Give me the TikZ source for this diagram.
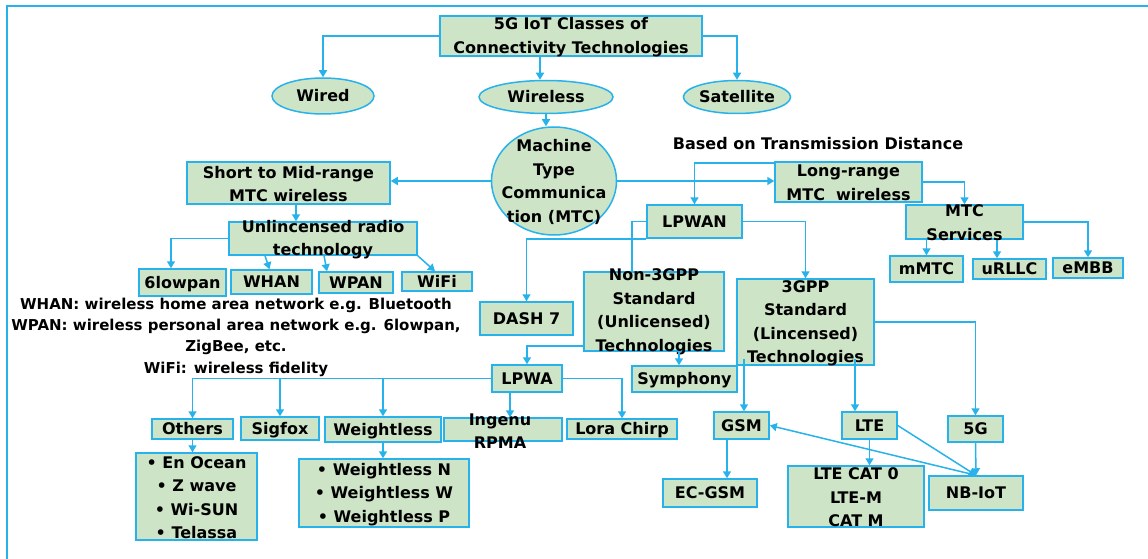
\documentclass[tikz,border=0pt]{standalone}
\usepackage{fontspec}
\setmainfont{DejaVu Sans}
\usetikzlibrary{arrows.meta,shapes.geometric}
\definecolor{lb}{RGB}{40,178,235}
\definecolor{gr}{RGB}{206,228,199}
\begin{document}
\begin{tikzpicture}[x=1pt,y=-1pt,
  bx/.style={draw=lb, fill=gr, line width=1.5pt, inner sep=0pt},
  box/.style={bx, font=\bfseries\fontsize{16}{23.5}\selectfont, text height=11.5pt, text depth=0pt},
  el/.style={ellipse, bx, font=\bfseries\fontsize{16}{23.5}\selectfont, text height=11.5pt, text depth=0pt},
  txt/.style={align=center, inner sep=0pt, font=\bfseries\fontsize{16}{23.5}\selectfont},
  note/.style={align=center, inner sep=0pt, font=\bfseries\fontsize{15}{21.3}\selectfont},
  arr/.style={draw=lb, line width=1.5pt, -{Triangle[width=8pt,length=7pt]}},
  ln/.style={draw=lb, line width=1.5pt}]
\useasboundingbox (0,0) rectangle (1148,559);
\fill[white] (0,0) rectangle (1148,559);
\draw[lb, line width=2pt] (7,559) -- (7,6) -- (1148,6);

% top
\node[bx, minimum width=262, minimum height=40] (top) at (571,36) {};
\node[txt] (topt) at (571,37) {5G IoT Classes of\\Connectivity Technologies};
\node[el, minimum width=102, minimum height=36] (wired) at (323,96) {Wired};
\node[el, minimum width=134, minimum height=33] (wireless) at (546,97) {Wireless};
\node[el, minimum width=95, minimum height=33] (sat) at (737,97) {Satellite};
\node[ellipse, bx, minimum width=125, minimum height=108] (mtc) at (554,181) {};
\node[txt] (mtct) at (554,182) {Machine\\Type\\Communica\\tion (MTC)};
\node[txt] (based) at (818,144) {Based on Transmission Distance};

% short range
\node[bx, minimum width=203, minimum height=42] (short) at (288.5,183) {};
\node[txt] (shortt) at (288.5,184) {Short to Mid-range\\MTC wireless};
\node[bx, minimum width=188, minimum height=33] (unl) at (323,238.5) {};
\node[txt] (unlt) at (323,239.5) {Unlincensed radio\\technology};
\node[box, minimum width=87, minimum height=27] (six) at (182.5,282.5) {6lowpan};
\node[box, minimum width=81, minimum height=24] (whan) at (271.5,282) {WHAN};
\node[box, minimum width=74, minimum height=21] (wpan) at (356,282.5) {WPAN};
\node[box, minimum width=70, minimum height=19] (wifi) at (437,281.5) {WiFi};
\node[note] (notes) at (236,337) {WHAN: wireless home area network e.g. Bluetooth\\WPAN: wireless personal area network e.g. 6lowpan,\\ZigBee, etc.\\WiFi: wireless fidelity};

% long range
\node[bx, minimum width=147, minimum height=40] (long) at (848.5,182) {};
\node[txt] (longt) at (848.5,183) {Long-range\\MTC\ \ wireless};
\node[bx, minimum width=117, minimum height=34] (serv) at (964.5,222) {};
\node[txt] (servt) at (964.5,222.5) {MTC\\Services};
\node[box, minimum width=73, minimum height=26] (mmtc) at (926.5,269) {mMTC};
\node[box, minimum width=73, minimum height=20] (urllc) at (1009.5,269) {uRLLC};
\node[box, minimum width=70, minimum height=20] (embb) at (1088,268) {eMBB};

\node[box, minimum width=95, minimum height=33] (lpwan) at (694.5,221.5) {LPWAN};
\node[box, minimum width=93, minimum height=33] (dash) at (526.5,318.5) {DASH 7};
\node[bx, minimum width=140, minimum height=79] (non) at (654,311.5) {};
\node[txt] (nont) at (654,312) {Non-3GPP\\Standard\\(Unlicensed)\\Technologies};
\node[bx, minimum width=137, minimum height=86] (tgpp) at (805.5,322) {};
\node[txt] (tgppt) at (805.5,323.5) {3GPP\\Standard\\(Lincensed)\\Technologies};
\node[box, minimum width=105, minimum height=26] (symph) at (684.5,379) {Symphony};
\node[box, minimum width=70, minimum height=27] (lpwa) at (527,378.5) {LPWA};

\node[box, minimum width=81, minimum height=20] (others) at (192.5,429) {Others};
\node[box, minimum width=78, minimum height=23] (sigfox) at (280,428.5) {Sigfox};
\node[box, minimum width=116, minimum height=25] (weight) at (383,429.5) {Weightless};
\node[bx, minimum width=118, minimum height=23] (ingenu) at (503,429.5) {};
\node[txt] (ingenut) at (500,431) {Ingenu\\RPMA};
\node[box, minimum width=110, minimum height=20] (lora) at (622,429) {Lora Chirp};
\node[bx, minimum width=121, minimum height=87] (olist) at (196.5,496.5) {};
\node[txt] (olistt) at (196.5,497.5) {• En Ocean\\• Z wave\\• Wi-SUN\\• Telassa};
\node[bx, minimum width=170, minimum height=68] (wlist) at (384,493) {};
\node[txt] (wlistt) at (384,494.5) {• Weightless N\\• Weightless W\\• Weightless P};

\node[box, minimum width=55, minimum height=27] (gsm) at (741.5,425.5) {GSM};
\node[box, minimum width=94, minimum height=28] (ecgsm) at (710,493) {EC-GSM};
\node[box, minimum width=55, minimum height=27] (lte) at (869.5,425.5) {LTE};
\node[bx, minimum width=136, minimum height=61] (ltecat) at (856,496.5) {};
\node[txt] (ltecatt) at (856,497.5) {LTE CAT 0\\LTE-M\\CAT M};
\node[box, minimum width=55, minimum height=26] (fg) at (975.5,429) {5G};
\node[box, minimum width=94, minimum height=34] (nb) at (976,493) {NB-IoT};

% connectors
\draw[arr] (top.west) -| (wired.north);
\draw[arr] ([xshift=-31pt]top.south) -- ([xshift=-31pt]top.south |- wireless.north);
\draw[arr] (top.east) -| (sat.north);
\draw[arr] (wireless.south) -- (wireless.south |- mtc.north);
\draw[arr] (mtc.west) -- (short.east |- mtc.west);
\draw[arr] (mtc.east) -- (long.west |- mtc.east);
\draw[arr] ([yshift=-1.5pt]long.north west) -| (lpwan.north);
\draw[arr] (long.east) -| (serv.north);
\draw[ln] (lpwan.west) -| ([xshift=-22pt]non.north);
\draw[arr] (lpwan.south west) -| (dash.north);
\draw[arr] (lpwan.east) -| (tgpp.north);
\draw[arr] (tgpp.east) -| (fg.north);
\draw[arr] ([xshift=2.5pt,yshift=7pt]gsm.north |- tgpp.south) -- ([xshift=2.5pt]gsm.north);
\draw[arr] ([xshift=-14.5pt,yshift=7pt]lte.north |- tgpp.south) -- ([xshift=-14.5pt]lte.north);
\draw[arr] ([xshift=25pt]non.south) -- ([xshift=25pt]non.south |- symph.north);
\draw[arr] ([yshift=-34.5pt]non.west) -| (lpwa.north);
\draw[arr] (lpwa.west) -| (others.north);
\draw[arr] (lpwa.west) -| (sigfox.north);
\draw[arr] (lpwa.west) -| (weight.north);
\draw[arr] ([xshift=-17pt]lpwa.south) -- ([xshift=-17pt]lpwa.south |- ingenu.north);
\draw[arr] (lpwa.east) -| (lora.north);
\draw[arr] (others.south) -- (others.south |- olist.north);
\draw[arr] (weight.south) -- (weight.south |- wlist.north);
\draw[arr] ([xshift=-14.5pt]gsm.south) -- ([xshift=-14.5pt]gsm.south |- ecgsm.north);
\draw[arr] (lte.south) -- (lte.south |- ltecat.north);
\draw[arr] (fg.south) -- (nb.north);
\draw[arr] (lte.east) -- (nb.north);
\draw[arr] (nb.north) -- (gsm.east);
\draw[arr] ([xshift=7.5pt]short.south) -- ([xshift=7.5pt]short.south |- unl.north);
\draw[arr] (unl.west) -| ([xshift=-11.5pt]six.north);
\draw[arr] ([xshift=-58pt]unl.south) -- ([xshift=-2pt]whan.north);
\draw[arr] ([xshift=1pt]unl.south) -- ([xshift=-29pt]wpan.north);
\draw[arr] (unl.south east) -- ([xshift=-2pt]wifi.north);
\draw[arr] (serv.south -| mmtc.north) -- (mmtc.north);
\draw[arr] ([xshift=-12.5pt]urllc.north |- serv.south) -- ([xshift=-12.5pt]urllc.north);
\draw[arr] (serv.east) -| (embb.north);
\end{tikzpicture}
\end{document}
